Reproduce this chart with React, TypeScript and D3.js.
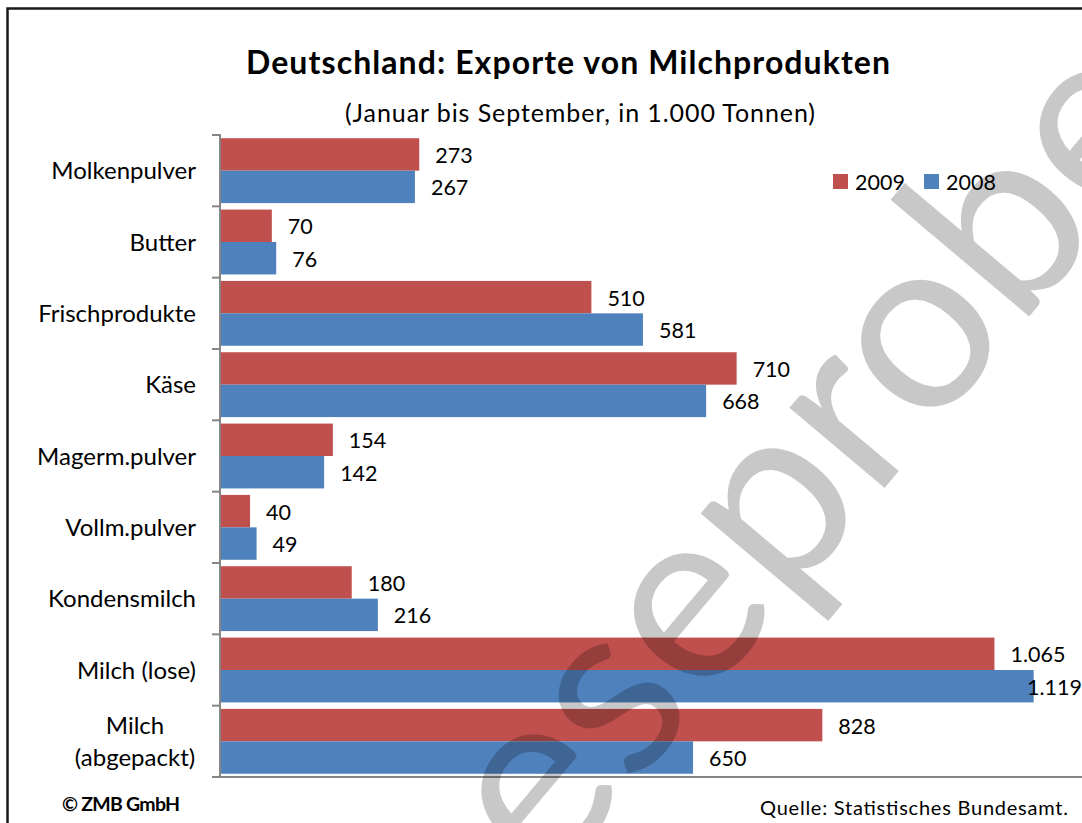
import React from "react";
import * as d3 from "d3";

const categories = [
  "Molkenpulver",
  "Butter",
  "Frischprodukte",
  "Käse",
  "Magerm.pulver",
  "Vollm.pulver",
  "Kondensmilch",
  "Milch (lose)",
  "Milch (abgepackt)",
];
const values2009 = [273, 70, 510, 710, 154, 40, 180, 1065, 828];
const values2008 = [267, 76, 581, 668, 142, 49, 216, 1119, 650];
const seriesNames = ["2009", "2008"];
const seriesColors = ["#C0504D", "#4F81BD"];
const xDomainMax = 1200;

const W = 1082;
const H = 823;
const FONT = "Lato, 'Open Sans', sans-serif";

const locale = d3.formatLocale({ decimal: ",", thousands: ".", grouping: [3], currency: ["", "€"] });
const fmt = locale.format(",d");

// watermark anchor points (ink centres of the letters "s" and "o")
const WM_TEXT = "Leseprobe";
const WM_FONT = 240;
const wmTargetS = [619, 707];
const wmTargetO = [924, 342];

export default function App() {
  const wmRef = React.useRef<SVGTextElement | null>(null);
  const [wmTransform, setWmTransform] = React.useState("translate(889,524) rotate(-50)");

  React.useLayoutEffect(() => {
    const measure = () => {
      const el = wmRef.current;
      if (!el) return;
      try {
        const es = el.getExtentOfChar(2);
        const eo = el.getExtentOfChar(6);
        const ls = [es.x + es.width / 2, -0.253 * WM_FONT];
        const lo = [eo.x + eo.width / 2, -0.26 * WM_FONT];
        const dxL = lo[0] - ls[0];
        const dyL = lo[1] - ls[1];
        const dxT = wmTargetO[0] - wmTargetS[0];
        const dyT = wmTargetO[1] - wmTargetS[1];
        const k = Math.hypot(dxT, dyT) / Math.hypot(dxL, dyL);
        const ang = ((Math.atan2(dyT, dxT) - Math.atan2(dyL, dxL)) * 180) / Math.PI;
        setWmTransform(
          `translate(${wmTargetS[0]},${wmTargetS[1]}) rotate(${ang}) scale(${k}) translate(${-ls[0]},${-ls[1]})`
        );
      } catch (e) {
        /* keep default */
      }
    };
    measure();
    if ((document as any).fonts && (document as any).fonts.ready) {
      (document as any).fonts.ready.then(measure);
    }
  }, []);

  const plotLeft = 221;
  const plotTop = 135;
  const plotBottom = 777;
  const x = d3.scaleLinear().domain([0, xDomainMax]).range([plotLeft, plotLeft + 871.5]);
  const y = d3.scaleBand<string>().domain(categories).range([plotTop, plotBottom]).paddingInner(0).paddingOuter(0);
  const inner = d3.scaleBand<string>().domain(seriesNames).range([0, y.step()]).paddingOuter(0.1).paddingInner(0);
  const series = [values2009, values2008];

  const labelMaxX = 1027;

  return (
    <svg
      width={W}
      height={H}
      style={{ display: "block", position: "absolute", left: 0, top: 0, fontFamily: FONT }}
    >
      <rect x={0} y={0} width={W} height={H} fill="#fff" />
      <rect x={7.5} y={8.5} width={W + 20} height={H + 20} fill="none" stroke="#1a1a1a" strokeWidth={2.5} />

      <text x={568} y={74} textAnchor="middle" fontSize={32} fontWeight={700} fill="#000" textLength={644} lengthAdjust="spacing">
        Deutschland: Exporte von Milchprodukten
      </text>
      <text x={580} y={122} textAnchor="middle" fontSize={25} fill="#000" textLength={470} lengthAdjust="spacing">
        (Januar bis September, in 1.000 Tonnen)
      </text>

      {/* bars */}
      {categories.map((c, i) => (
        <g key={c}>
          {series.map((vals, s) => {
            const y0 = (y(c) as number) + (inner(seriesNames[s]) as number);
            const bw = inner.bandwidth();
            const xe = x(vals[i]);
            return (
              <g key={s}>
                <rect x={x(0)} y={y0} width={xe - x(0)} height={bw} fill={seriesColors[s]} />
                <text x={Math.min(xe + 16, labelMaxX)} y={y0 + bw / 2 + 8.5} fontSize={21.5} fill="#000">
                  {fmt(vals[i])}
                </text>
              </g>
            );
          })}
        </g>
      ))}

      {/* axes */}
      <line x1={220} x2={220} y1={plotTop} y2={plotBottom} stroke="#868686" strokeWidth={2} />
      <line x1={219} x2={W + 10} y1={plotBottom} y2={plotBottom} stroke="#868686" strokeWidth={2} />
      {d3.range(categories.length + 1).map((k) => {
        const ty = plotTop + k * y.step();
        return <line key={k} x1={212} x2={221} y1={ty} y2={ty} stroke="#868686" strokeWidth={2} />;
      })}

      {/* category labels */}
      {categories.map((c) => {
        const cy = (y(c) as number) + y.step() / 2;
        const parts = c === "Milch (abgepackt)" ? ["Milch", "(abgepackt)"] : [c];
        return (
          <text key={c} textAnchor={parts.length > 1 ? "middle" : "end"} fontSize={24} fill="#000">
            {parts.map((p, j) => (
              <tspan key={j} x={parts.length > 1 ? 135 : 196} y={cy + 8.5 + (j - (parts.length - 1) / 2) * 32}>
                {p}
              </tspan>
            ))}
          </text>
        );
      })}

      {/* legend */}
      {seriesNames.map((n, s) => {
        const lx = s === 0 ? 833 : 924;
        return (
          <g key={n}>
            <rect x={lx} y={174} width={15} height={15} fill={seriesColors[s]} />
            <text x={lx + 22} y={190} fontSize={21.5} fill="#000">
              {n}
            </text>
          </g>
        );
      })}

      {/* footer */}
      <text x={62} y={811} fontSize={19.5} fontWeight={700} fill="#000" textLength={118} lengthAdjust="spacing">
        © ZMB GmbH
      </text>
      <text x={760} y={815} fontSize={20} fill="#000" textLength={308} lengthAdjust="spacing">
        Quelle: Statistisches Bundesamt.
      </text>

      {/* watermark */}
      <g transform={wmTransform}>
        <text ref={wmRef} x={0} y={0} fontSize={WM_FONT} fill="#000" fillOpacity={0.215}>
          {WM_TEXT}
        </text>
      </g>
    </svg>
  );
}
